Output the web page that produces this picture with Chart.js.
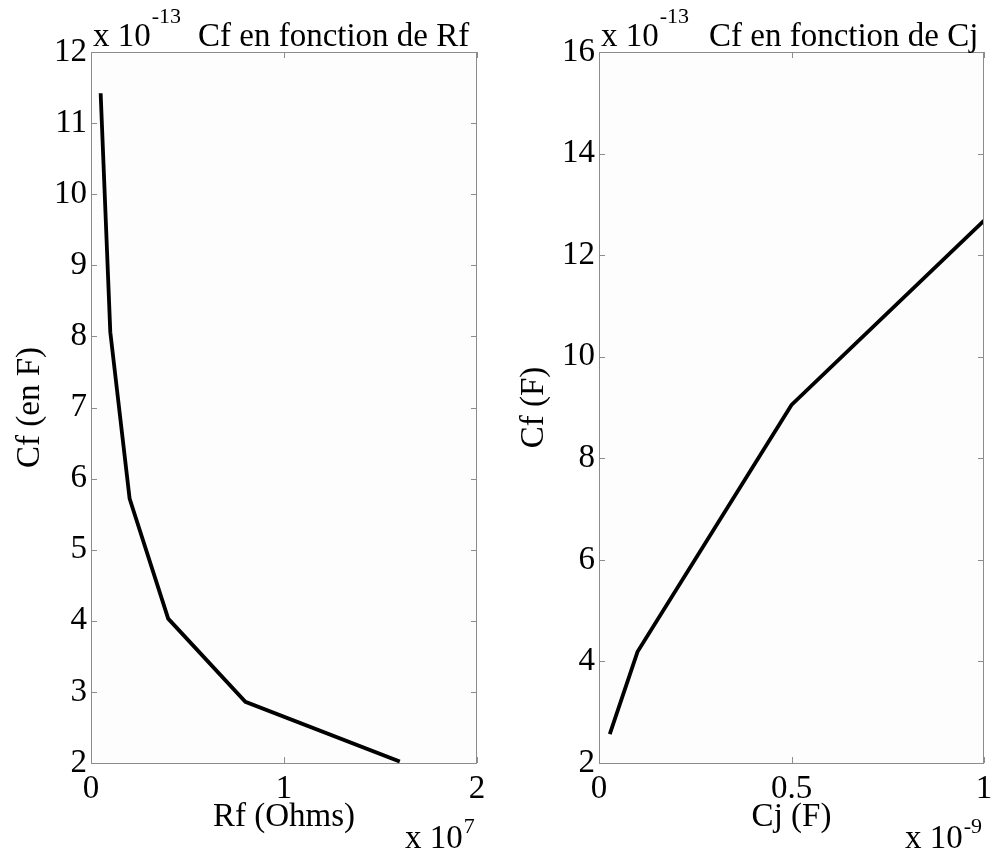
<!DOCTYPE html>
<html>
<head>
<meta charset="utf-8">
<script src="https://cdn.jsdelivr.net/npm/chart.js@4"></script>
<style>
  body { margin: 0; background: #fff; }
  .panneau { position: absolute; top: 0; width: 496px; height: 850px; }
</style>
</head>
<body>
<div class="panneau" style="left:0"><canvas id="grRf"></canvas></div>
<div class="panneau" style="left:496px"><canvas id="grCj"></canvas></div>
<script>
// Cf en fonction de Rf  (Rf en 1e7 Ohms, Cf en 1e-13 F)
const rf = [0.05, 0.1, 0.2, 0.4, 0.8, 1.6];
const cfRf = [11.42, 8.06, 5.72, 4.03, 2.86, 2.02];
const ticksRf = [0, 1, 2];
const ticksCfRf = [2, 3, 4, 5, 6, 7, 8, 9, 10, 11, 12];

// Cf en fonction de Cj  (Cj en 1e-9 F, Cf en 1e-13 F)
const cj = [0.028, 0.1, 0.5, 1.0];
const cfCj = [2.57, 4.19, 9.05, 12.68];
const ticksCj = [0, 0.5, 1];
const ticksCfCj = [2, 4, 6, 8, 10, 12, 14, 16];

const police = '"Liberation Serif", "Times New Roman", serif';
const couleurCadre = '#8c8c8c';

// fond, cadre, graduations internes et textes façon figure matlab
const cadreMatlab = {
  id: 'cadreMatlab',
  beforeDatasetsDraw(chart) {
    const a = chart.chartArea;
    const ctx = chart.ctx;
    ctx.save();
    ctx.fillStyle = '#fdfdfd';
    ctx.fillRect(a.left, a.top, a.right - a.left, a.bottom - a.top);
    ctx.restore();
  },
  afterDraw(chart, args, o) {
    const a = chart.chartArea;
    const ctx = chart.ctx;
    const sx = chart.scales.x, sy = chart.scales.y;
    const lg = 6;
    ctx.save();
    ctx.strokeStyle = couleurCadre;
    ctx.lineWidth = 1;
    ctx.strokeRect(a.left + 0.5, a.top + 0.5, a.right - a.left - 1, a.bottom - a.top);
    ctx.beginPath();
    sx.ticks.forEach(t => {
      const px = Math.round(sx.getPixelForValue(t.value)) + 0.5;
      ctx.moveTo(px, a.bottom); ctx.lineTo(px, a.bottom - lg);
      ctx.moveTo(px, a.top); ctx.lineTo(px, a.top + lg);
    });
    sy.ticks.forEach(t => {
      const py = Math.round(sy.getPixelForValue(t.value)) + 0.5;
      ctx.moveTo(a.left, py); ctx.lineTo(a.left + lg, py);
      ctx.moveTo(a.right, py); ctx.lineTo(a.right - lg, py);
    });
    ctx.stroke();

    ctx.fillStyle = '#000';
    ctx.textBaseline = 'alphabetic';
    ctx.font = '33px ' + police;
    ctx.textAlign = 'left';
    ctx.fillText(o.titre, o.titreX, 46);

    // multiplicateurs x 10^n
    const puissance = (x, y, exp, dy) => {
      ctx.font = '33px ' + police;
      ctx.textAlign = 'left';
      ctx.fillText('x 10', x, y);
      const w = ctx.measureText('x 10').width;
      ctx.font = '22px ' + police;
      ctx.fillText(exp, x + w + 1, y - dy);
    };
    puissance(a.left + 2, 46, o.expY, 23);
    puissance(o.expXPos, 848, o.expX, 15);

    ctx.font = '33px ' + police;
    ctx.textAlign = 'center';
    ctx.fillText(o.titreX_axe, (a.left + a.right) / 2, 826);

    ctx.translate(o.titreYPos, (a.top + a.bottom) / 2);
    ctx.rotate(-Math.PI / 2);
    ctx.textBaseline = 'middle';
    ctx.fillText(o.titreY_axe, 0, 0);
    ctx.restore();
  }
};

function creerGraphique(id, xs, ys, xTicks, yTicks, largeurY, margeDroite, textes) {
  const fixerTicks = liste => scale => {
    scale.ticks = liste.map(v => ({ value: v }));
  };
  return new Chart(document.getElementById(id), {
    type: 'scatter',
    data: {
      datasets: [{
        data: xs.map((x, i) => ({ x: x, y: ys[i] })),
        showLine: true,
        borderColor: '#000',
        borderWidth: 3.8,
        pointRadius: 0,
        fill: false,
        tension: 0
      }]
    },
    options: {
      responsive: true,
      maintainAspectRatio: false,
      animation: false,
      layout: { padding: { left: 0, top: 52, right: margeDroite, bottom: 0 } },
      plugins: {
        legend: { display: false },
        tooltip: { enabled: false },
        cadreMatlab: textes
      },
      scales: {
        x: {
          type: 'linear',
          min: xTicks[0],
          max: xTicks[xTicks.length - 1],
          afterBuildTicks: fixerTicks(xTicks),
          afterFit(scale) {
            scale.height = 87;
            scale.paddingLeft = 0; scale.paddingRight = 0;
          },
          grid: { display: false, drawTicks: false },
          border: { display: false },
          ticks: {
            padding: 7,
            color: '#000',
            font: { family: police, size: 33 },
            maxRotation: 0,
            callback: v => String(v)
          }
        },
        y: {
          type: 'linear',
          min: yTicks[0],
          max: yTicks[yTicks.length - 1],
          afterBuildTicks: fixerTicks(yTicks),
          afterFit(scale) {
            scale.width = largeurY;
            scale.paddingTop = 0; scale.paddingBottom = 0;
          },
          grid: { display: false, drawTicks: false },
          border: { display: false },
          ticks: {
            padding: 4,
            color: '#000',
            font: { family: police, size: 33 },
            callback: v => String(v)
          }
        }
      }
    },
    plugins: [cadreMatlab]
  });
}

creerGraphique('grRf', rf, cfRf, ticksRf, ticksCfRf, 91, 19, {
  titre: 'Cf en fonction de Rf', titreX: 198,
  expY: '-13', expX: '7', expXPos: 405,
  titreX_axe: 'Rf (Ohms)', titreY_axe: 'Cf (en F)', titreYPos: 30
});

creerGraphique('grCj', cj, cfCj, ticksCj, ticksCfCj, 103, 8, {
  titre: 'Cf en fonction de Cj', titreX: 213,
  expY: '-13', expX: '-9', expXPos: 409,
  titreX_axe: 'Cj (F)', titreY_axe: 'Cf (F)', titreYPos: 38
});
</script>
</body>
</html>
